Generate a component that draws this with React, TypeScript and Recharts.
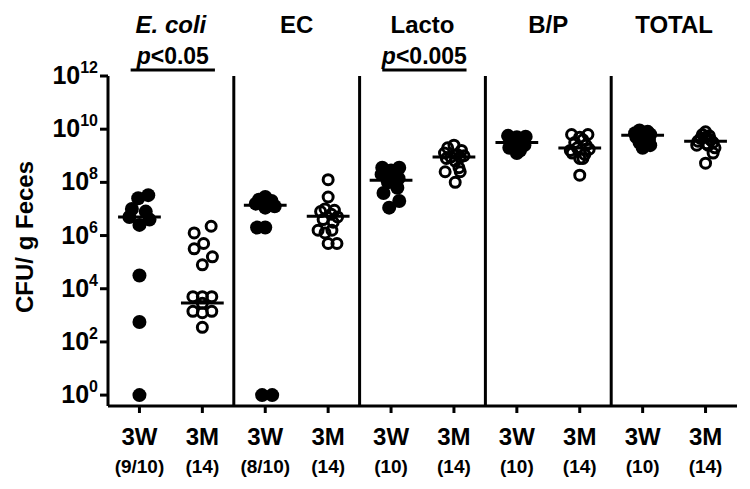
import React from 'react';
import { ScatterChart, Scatter, XAxis, YAxis, ReferenceLine, ReferenceDot, Label } from 'recharts';

// ---- data (log10 CFU / g feces) ----
const panels = ['E. coli', 'EC', 'Lacto', 'B/P', 'TOTAL'];
const groupLabels = ['3W', '3M', '3W', '3M', '3W', '3M', '3W', '3M', '3W', '3M'];
const groupCounts = ['(9/10)', '(14)', '(8/10)', '(14)', '(10)', '(14)', '(10)', '(14)', '(10)', '(14)'];
const yTicks = [0, 2, 4, 6, 8, 10, 12];
const xTicks = [1, 2, 3, 4, 5, 6, 7, 8, 9, 10];

const ecoli3W = [7.52, 7.4, 7.0, 6.9, 6.7, 6.6, 6.4, 4.5, 2.75, 0];
const ecoli3WJ = [0.14, -0.02, -0.12, 0.1, -0.16, 0.16, 0, 0, 0, 0];
const ecoli3M = [6.35, 6.1, 5.7, 5.5, 5.2, 4.9, 3.7, 3.7, 3.7, 3.45, 3.15, 3.1, 3.15, 2.55];
const ecoli3MJ = [0.14, -0.13, 0.02, -0.13, 0.16, 0, -0.15, 0, 0.15, 0, -0.15, 0, 0.15, 0];
const ec3W = [7.45, 7.35, 7.3, 7.2, 7.1, 7.05, 6.3, 6.3, 0, 0];
const ec3WJ = [0, -0.1, 0.1, -0.15, 0.15, 0, -0.13, 0, -0.05, 0.11];
const ec3M = [8.1, 7.45, 7.0, 6.95, 6.9, 6.8, 6.7, 6.6, 6.5, 6.2, 6.2, 6.1, 5.7, 5.7];
const ec3MJ = [0, 0, -0.05, 0.1, -0.12, 0.05, 0.15, -0.08, 0.08, -0.16, 0.06, -0.05, 0, 0.14];
const lacto3W = [8.55, 8.55, 8.45, 8.3, 8.15, 8.0, 7.8, 7.6, 7.3, 7.05];
const lacto3WJ = [-0.14, 0.13, 0, -0.15, 0.12, -0.05, 0.1, -0.12, 0.13, -0.03];
const lacto3M = [9.4, 9.3, 9.2, 9.1, 9.05, 9.0, 8.95, 8.95, 8.9, 8.8, 8.55, 8.4, 8.4, 8.0];
const lacto3MJ = [0, -0.1, 0.12, -0.15, 0.05, 0.16, -0.05, 0.1, -0.12, 0.02, 0.08, -0.14, 0.1, 0.02];
const bp3W = [9.75, 9.72, 9.7, 9.65, 9.55, 9.45, 9.4, 9.3, 9.2, 9.1];
const bp3WJ = [-0.14, 0.14, 0, -0.1, 0.1, -0.05, 0.12, -0.12, 0.05, 0];
const bp3M = [9.8, 9.8, 9.7, 9.6, 9.5, 9.4, 9.3, 9.25, 9.2, 9.1, 9.05, 8.9, 8.9, 8.27];
const bp3MJ = [-0.13, 0.13, 0, 0.05, -0.08, 0.1, -0.04, 0.15, -0.15, -0.12, 0.08, 0, 0.05, 0];
const total3W = [9.95, 9.9, 9.85, 9.8, 9.75, 9.7, 9.6, 9.5, 9.4, 9.3];
const total3WJ = [-0.05, 0.08, -0.12, 0.12, 0, -0.1, 0.1, -0.05, 0.12, 0];
const total3M = [9.9, 9.8, 9.75, 9.7, 9.65, 9.6, 9.55, 9.5, 9.45, 9.4, 9.4, 9.3, 9.1, 8.72];
const total3MJ = [0, -0.05, 0.06, 0, -0.08, 0.08, -0.12, 0.12, 0.02, -0.14, 0.04, 0.15, 0.12, 0];

const medians = [6.7, 3.46, 7.14, 6.73, 8.08, 8.95, 9.5, 9.29, 9.77, 9.55];

const sigBars = [
  { from: 1, to: 2, text: '<0.05' },
  { from: 5, to: 6, text: '<0.005' },
];

const groups = [
  [ecoli3W, ecoli3WJ], [ecoli3M, ecoli3MJ],
  [ec3W, ec3WJ], [ec3M, ec3MJ],
  [lacto3W, lacto3WJ], [lacto3M, lacto3MJ],
  [bp3W, bp3WJ], [bp3M, bp3MJ],
  [total3W, total3WJ], [total3M, total3MJ],
];

const filledPts: { x: number; y: number }[] = [];
const openPts: { x: number; y: number }[] = [];
groups.forEach(([vals, jit], gi) => {
  vals.forEach((v, k) => {
    const p = { x: gi + 1 + jit[k], y: v };
    if (gi % 2 === 0) filledPts.push(p);
    else openPts.push(p);
  });
});

const FONT = '"Liberation Sans", Arial, Helvetica, sans-serif';

const FilledDot = (props: any) => <circle cx={props.cx} cy={props.cy} r={7} fill="#000" />;
const OpenDot = (props: any) => (
  <circle cx={props.cx} cy={props.cy} r={5} fill="none" stroke="#000" strokeWidth={3} />
);

const YTick = (props: any) => {
  const { x, y, payload } = props;
  return (
    <text x={x} y={y} textAnchor="end" fontFamily={FONT} fontWeight="bold" fill="#000">
      <tspan fontSize={25} dy={8}>10</tspan>
      <tspan fontSize={16} dy={-11}>{payload.value}</tspan>
    </text>
  );
};

const XTick = (props: any) => {
  const { x, y, payload } = props;
  const i = payload.value - 1;
  return (
    <g>
      <text x={x} y={y + 30} textAnchor="middle" fontFamily={FONT} fontWeight="bold" fontSize={24} fill="#000">
        {groupLabels[i]}
      </text>
      <text x={x} y={y + 58} textAnchor="middle" fontFamily={FONT} fontWeight="bold" fontSize={19} fill="#000">
        {groupCounts[i]}
      </text>
    </g>
  );
};

const YLabel = (props: any) => {
  const vb = props.viewBox || { x: 0, y: 0, width: 0, height: 0 };
  const cx = vb.x + 25;
  const cy = vb.y + vb.height / 2 - 4;
  return (
    <text
      x={cx}
      y={cy}
      transform={`rotate(-90, ${cx}, ${cy})`}
      textAnchor="middle"
      fontFamily={FONT}
      fontWeight="bold"
      fontSize={24}
      fill="#000"
    >
      CFU/ g Feces
    </text>
  );
};

export default function App() {
  return (
    <ScatterChart width={742} height={481} margin={{ top: 68, right: 13, bottom: 23, left: 0 }}>
      <XAxis
        type="number"
        dataKey="x"
        domain={[0.5, 10.5]}
        ticks={xTicks}
        interval={0}
        height={60}
        tickSize={7}
        tickMargin={2}
        axisLine={{ stroke: '#000', strokeWidth: 3 }}
        tickLine={{ stroke: '#000', strokeWidth: 3 }}
        tick={<XTick />}
      />
      <YAxis
        type="number"
        dataKey="y"
        domain={[-0.41, 12]}
        ticks={yTicks}
        interval={0}
        width={100}
        tickSize={8}
        tickMargin={2}
        axisLine={{ stroke: '#000', strokeWidth: 3 }}
        tickLine={{ stroke: '#000', strokeWidth: 3 }}
        tick={<YTick />}
      >
        <Label content={<YLabel />} />
      </YAxis>
      {[2.5, 4.5, 6.5, 8.5].map((xv) => (
        <ReferenceLine key={'sep' + xv} x={xv} stroke="#000" strokeWidth={3} />
      ))}
      <Scatter data={filledPts} shape={<FilledDot />} isAnimationActive={false} />
      <Scatter data={openPts} shape={<OpenDot />} isAnimationActive={false} />
      {medians.map((m, i) => (
        <ReferenceLine
          key={'med' + i}
          segment={[{ x: i + 1 - 0.34, y: m }, { x: i + 1 + 0.34, y: m }]}
          stroke="#000"
          strokeWidth={3}
        />
      ))}
      {sigBars.map((b, i) => (
        <ReferenceLine
          key={'sig' + i}
          ifOverflow="visible"
          segment={[{ x: b.from - 0.14, y: 12.23 }, { x: b.to + 0.2, y: 12.23 }]}
          stroke="#000"
          strokeWidth={3}
        />
      ))}
      {sigBars.map((b, i) => (
        <ReferenceDot
          key={'sigt' + i}
          x={(b.from + b.to) / 2 + 0.03}
          y={12.47}
          r={0}
          ifOverflow="visible"
          shape={(p: any) => (
            <text x={p.cx} y={p.cy} textAnchor="middle" fontFamily={FONT} fontWeight="bold" fontSize={23} fill="#000">
              <tspan fontStyle="italic">p</tspan>
              {b.text}
            </text>
          )}
        />
      ))}
      {panels.map((t, i) => (
        <ReferenceDot
          key={'title' + i}
          x={i * 2 + 1.5}
          y={13.6}
          r={0}
          ifOverflow="visible"
          shape={(p: any) => (
            <text
              x={p.cx}
              y={p.cy}
              textAnchor="middle"
              fontFamily={FONT}
              fontWeight="bold"
              fontStyle={i === 0 ? 'italic' : 'normal'}
              fontSize={24}
              fill="#000"
            >
              {t}
            </text>
          )}
        />
      ))}
    </ScatterChart>
  );
}
